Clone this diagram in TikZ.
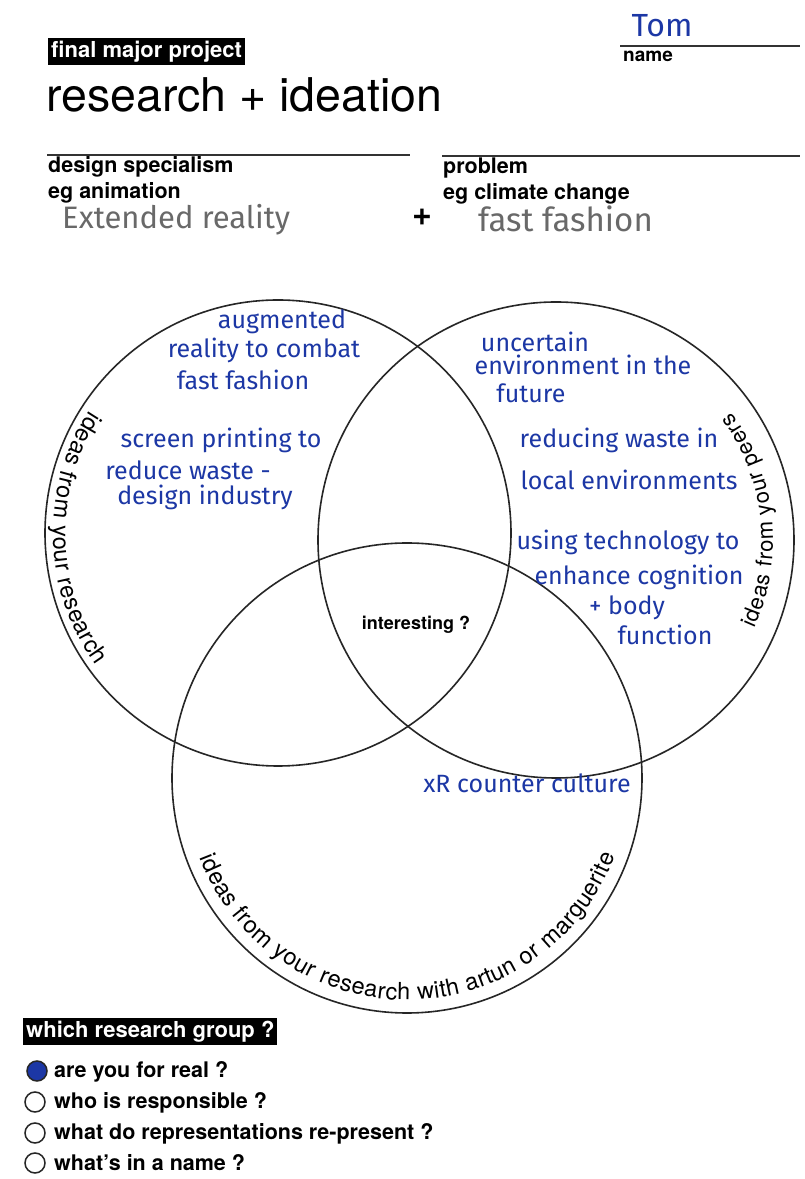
\documentclass[tikz,border=0pt]{standalone}
\usepackage{fontspec}
\setmainfont{TeX Gyre Heros}
\newfontfamily\handfont{Fira Sans}
\usetikzlibrary{decorations.text,calc}
\definecolor{ink}{RGB}{28,55,165}
\definecolor{pencil}{RGB}{105,105,105}
\newcommand\fs[1]{\fontsize{#1}{#1}\selectfont}
\begin{document}
\begin{tikzpicture}[x=1pt,y=1pt,
  print/.style={font=\bfseries\fs{21.5}, inner sep=0, anchor=base west},
  hand/.style={font=\handfont\fs{25}, text=ink, inner sep=0},
  pen/.style={text=pencil, inner sep=0, anchor=base west},
  venn/.style={circle, draw=black!85, line width=1.6, inner sep=0},
  rulebar/.style={line width=2, draw=black!80},
  blackbox/.style={fill=black, text=white, font=\bfseries\fs{22}, inner xsep=3, inner ysep=3, anchor=west},
  radio/.style={circle, draw=black!85, line width=1.5, minimum size=20, inner sep=0},
  opt/.style={font=\bfseries\fs{21.5}, inner sep=0, anchor=base west},
  arclabel/.style={decorate, decoration={text along path, text align={fit to path}, text={#1}}},
]
\useasboundingbox (0,0) rectangle (805,1179);
\fill[white] (0,0) rectangle (805,1179);

% header
\node[blackbox] (fmp) at (48,1127.5) {final major project};
\node[font=\fs{46.5}, inner sep=0, anchor=base west] (title) at (46,1067) {research + ideation};
\node[hand, font=\handfont\fs{32}] (tom) at (662,1153) {Tom};
\coordinate (n1) at (620,1133);
\coordinate (n2) at (800,1133);
\draw[rulebar] (n1) -- (n2);
\node[print, font=\bfseries\fs{19}] (name) at (623,1117) {name};

\coordinate (d1) at (47,1024);
\coordinate (d2) at (410,1024);
\draw[rulebar] (d1) -- (d2);
\node[print] (ds) at (48,1006) {design specialism};
\node[print] (eg1) at (48,980) {eg animation};
\node[pen, font=\handfont\fs{31}] (xr) at (62,950) {Extended reality};
\node[font=\bfseries\fs{34}, inner sep=0] (plus) at (422,962) {+};
\coordinate (p1) at (442,1023);
\coordinate (p2) at (800,1023);
\draw[rulebar] (p1) -- (p2);
\node[print] (pb) at (443,1005) {problem};
\node[print] (eg2) at (443,979) {eg climate change};
\node[pen, font=\handfont\fs{33}] (ff) at (478,947) {fast fashion};

% venn circles
\node[venn, minimum size=466] (L) at (278,646) {};
\node[venn, minimum size=476] (R) at (556,639) {};
\node[venn, minimum size=470] (B) at (407,401) {};

% circular labels
\path[arclabel={|\fs{23.5}|ideas from your research}]
  ($(L.center)+(147:225)$) arc[start angle=147, end angle=216, radius=225];
\path[arclabel={|\fs{22}|ideas from your peers}]
  ($(R.center)+(-24:217)$) arc[start angle=-24, end angle=36, radius=217];
\path[arclabel={|\fs{23.5}|ideas from your research with artun or marguerite}]
  ($(B.center)+(201:222)$) arc[start angle=201, end angle=339.5, radius=222];

\node[font=\bfseries\fs{18}, inner sep=0] (int) at (416,554) {interesting ?};

% handwritten notes (left)
\node[hand] (a1) at (282,857) {augmented};
\node[hand] (a2) at (264,829) {reality to combat};
\node[hand] (a3) at (243,799) {fast fashion};
\node[hand] (s1) at (221,739) {screen printing to};
\node[hand] (s2) at (188,709) {reduce waste -};
\node[hand] (s3) at (205,682) {design industry};
% right
\node[hand] (u1) at (535,837) {uncertain};
\node[hand] (u2) at (583,814) {environment in the};
\node[hand] (u3) at (531,786) {future};
\node[hand] (w1) at (619,739) {reducing waste in};
\node[hand] (w2) at (629,699) {local environments};
\node[hand] (t1) at (628,637) {using technology to};
\node[hand] (t2) at (639,602) {enhance cognition};
\node[hand] (t3) at (627,571) {+ body};
\node[hand] (t4) at (665,544) {function};
% bottom
\node[hand] (c1) at (527,396) {xR counter culture};

% research group
\node[blackbox] (wrg) at (23,147.5) {which research group ?};
\node[radio, fill=ink] (r1) at (37,108) {};
\node[radio] (r2) at (35,77) {};
\node[radio] (r3) at (35,46) {};
\node[radio] (r4) at (35,16) {};
\node[opt] (o1) at (54,101) {are you for real ?};
\node[opt] (o2) at (54,70) {who is responsible ?};
\node[opt] (o3) at (54,39) {what do representations re-present ?};
\node[opt] (o4) at (54,9) {what's in a name ?};
\end{tikzpicture}
\end{document}
